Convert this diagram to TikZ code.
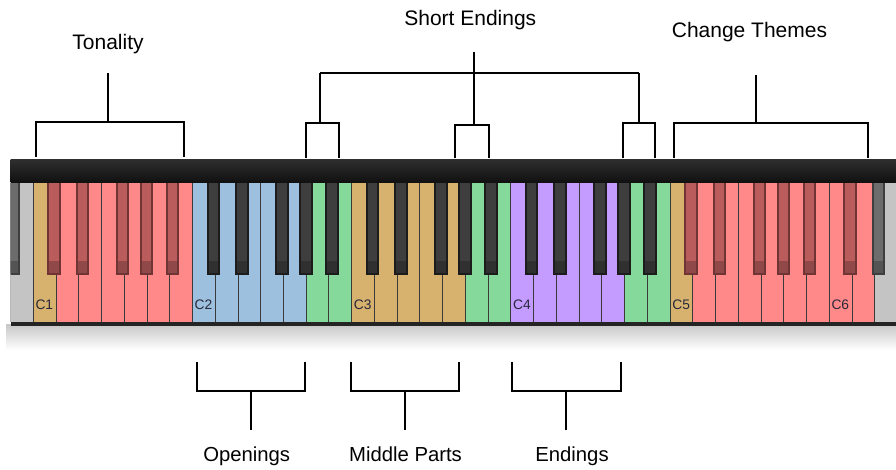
\documentclass[tikz,border=0pt]{standalone}
\usepackage{fontspec}
\setmainfont{Liberation Sans}
\usetikzlibrary{calc}

% white key colours
\definecolor{kred}{RGB}{255,136,136}
\definecolor{kgold}{RGB}{214,178,110}
\definecolor{kblue}{RGB}{157,192,222}
\definecolor{kgreen}{RGB}{133,218,155}
\definecolor{kpurple}{RGB}{196,155,255}
\definecolor{kgray}{RGB}{196,196,196}
% black key colours (body / edge)
\definecolor{bbody}{RGB}{62,62,62}
\definecolor{bedge}{RGB}{28,28,28}
\definecolor{rbody}{RGB}{186,92,92}
\definecolor{redge}{RGB}{112,52,52}
\definecolor{gbody}{RGB}{108,108,108}
\definecolor{gedge}{RGB}{62,62,62}
\definecolor{keysep}{RGB}{58,58,58}
\definecolor{keytext}{RGB}{40,40,58}

% one black key: left x, body colour, edge colour
\newcommand\blackkey[3]{%
  \fill[#3] (#1,183) rectangle ++(13.5,92);
  \fill[#2] ({#1+2},183) rectangle ++(9.5,78);
  \fill[#2!78!black] ({#1+2},261) rectangle ++(9.5,12);
}
% square bracket: name, left x, right x, leg end y, bar y, stem x, stem end y
\newcommand\brk[7]{%
  \coordinate (#1-l) at (#2,#4);
  \coordinate (#1-r) at (#3,#4);
  \coordinate (#1-m) at (#6,#5);
  \coordinate (#1-e) at (#6,#7);
  \draw[brline] (#1-l) |- (#1-m) -| (#1-r);
  \draw[brline] (#1-m) -- (#1-e);
}

\begin{document}
\begin{tikzpicture}[x=1pt,y=-1pt,
  brline/.style={line width=2.2pt,black,line join=miter},
  lbl/.style={inner sep=0pt,anchor=base,font=\fontsize{21pt}{24pt}\selectfont},
  lblb/.style={inner sep=0pt,anchor=base,font=\fontsize{20.3pt}{24pt}\selectfont},
  klbl/.style={inner sep=0pt,anchor=base west,text=keytext,font=\fontsize{13.8pt}{16pt}\selectfont}]
\useasboundingbox (0,0) rectangle (896,470);
\fill[white] (0,0) rectangle (896,470);

% soft shadow under the keyboard
\shade[top color=black!22,bottom color=white] (6,324) rectangle (896,350);

\begin{scope}
\clip (10.56,150) rectangle (896,330);
% white keys, B0 to E6
\foreach \c [count=\n from 0] in {kgray,kgold,kred,kred,kred,kred,kred,kred,
    kblue,kblue,kblue,kblue,kblue,kgreen,kgreen,
    kgold,kgold,kgold,kgold,kgold,kgreen,kgreen,
    kpurple,kpurple,kpurple,kpurple,kpurple,kgreen,kgreen,
    kgold,kred,kred,kred,kred,kred,kred,kred,kred,kgray} {
  \pgfmathsetmacro\xa{10.56+22.74*\n}
  \fill[\c] (\xa,183) rectangle ++(22.74,139);
  \draw[keysep,line width=0.9pt] (\xa,183) -- ++(0,139);
}

% black keys, octave by octave
\foreach \o/\bc/\ec in {0/rbody/redge,1/bbody/bedge,2/bbody/bedge,3/bbody/bedge,4/rbody/redge} {
  \foreach \d in {14,42.5,82.5,106.5,132.5} {
    \pgfmathsetmacro\xb{33.3+159.2*\o+\d}
    \blackkey{\xb}{\bc}{\ec}
  }
}
\blackkey{6.6}{gbody}{gedge}
\blackkey{843.3}{rbody}{redge}
\blackkey{871.8}{gbody}{gedge}

% top rail and bottom edge
\shade[top color=black!82,bottom color=black!94] (10.56,160) rectangle (896,183);
\fill[black!86] (10.56,322) rectangle (896,326);
\end{scope}

% octave names
\node[klbl] (c1) at (35.3,309) {C1};
\node[klbl] (c2) at (194.5,309) {C2};
\node[klbl] (c3) at (353.7,309) {C3};
\node[klbl] (c4) at (512.9,309) {C4};
\node[klbl] (c5) at (672.1,309) {C5};
\node[klbl] (c6) at (831.3,309) {C6};

% upper brackets
\brk{ton}{36}{184}{157}{122}{108}{73}
\brk{chg}{674}{868}{158}{123}{756}{75}
\brk{sa}{306}{339}{158}{123}{320}{73}
\brk{sb}{455}{489}{158}{125}{474}{52}
\brk{sc}{623}{655}{158}{123}{639}{73}
\draw[brline] (sa-e) -- (sc-e);

\node[lbl] (tonality) at (108,50) {Tonality};
\node[lbl] (short) at (470.3,26) {Short Endings};
\node[lbl] (change) at (749.5,37.3) {Change Themes};

% lower brackets
\brk{op}{197}{305}{362}{391}{251}{429.5}
\brk{mp}{351}{459}{362}{391}{405}{429.5}
\brk{en}{512}{621}{362}{391}{566}{429.5}

\node[lblb] (openings) at (246.7,461.7) {Openings};
\node[lblb] (middle) at (405.5,461.7) {Middle Parts};
\node[lblb] (endings) at (572,461.7) {Endings};
\end{tikzpicture}
\end{document}
